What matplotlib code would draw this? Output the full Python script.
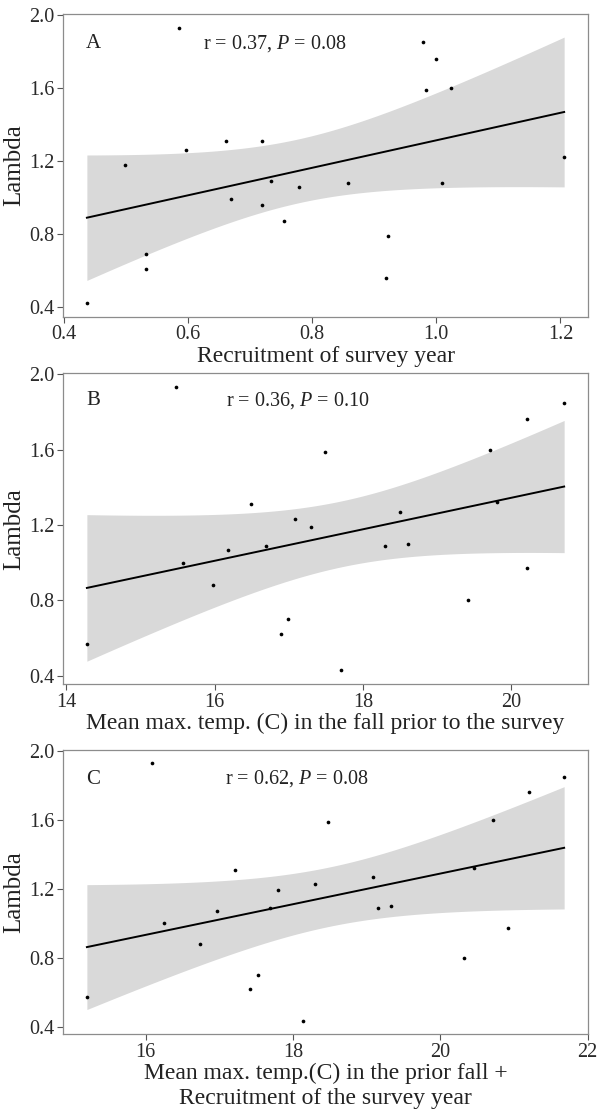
import numpy as np
import matplotlib
matplotlib.use("Agg")
import matplotlib.pyplot as plt

plt.rcParams["font.family"] = ["Liberation Serif", "DejaVu Serif"]
plt.rcParams["mathtext.fontset"] = "custom"
plt.rcParams["mathtext.it"] = "Liberation Serif:italic"
plt.rcParams["mathtext.rm"] = "Liberation Serif"

# Population growth rate (lambda) per survey year
lambda_a = [0.42, 1.18, 0.69, 0.61, 1.93, 1.26, 1.31, 0.99, 1.31, 0.96, 1.09,
            0.87, 1.06, 1.08, 1.85, 1.76, 1.59, 1.60, 1.08, 0.79, 0.56, 1.22]
recruitment = [0.437, 0.498, 0.532, 0.532, 0.585, 0.596, 0.661, 0.670, 0.719, 0.719, 0.734,
               0.755, 0.779, 0.857, 0.979, 1.000, 0.983, 1.024, 1.009, 0.922, 0.919, 1.206]

lambda_b = [0.57, 1.93, 1.00, 0.88, 1.07, 1.31, 1.09, 0.62, 0.70, 1.23, 1.19,
            1.59, 0.43, 1.09, 1.27, 1.10, 0.80, 1.60, 1.32, 1.76, 0.97, 1.85]
fall_temp = [14.28, 15.48, 15.57, 15.98, 16.18, 16.49, 16.69, 16.89, 16.99, 17.09, 17.30,
             17.49, 17.70, 18.30, 18.50, 18.60, 19.41, 19.71, 19.81, 20.21, 20.21, 20.71]

lambda_c = [0.57, 1.93, 1.00, 0.88, 1.07, 1.31, 0.62, 0.70, 1.09, 1.19, 0.43,
            1.23, 1.59, 1.27, 1.09, 1.10, 0.80, 1.32, 1.60, 0.97, 1.76, 1.85]
temp_plus_recr = [15.20, 16.08, 16.25, 16.74, 16.96, 17.21, 17.42, 17.52, 17.69, 17.79, 18.13,
                  18.30, 18.48, 19.09, 19.15, 19.33, 20.32, 20.46, 20.72, 20.92, 21.20, 21.68]

panel_tags = ["A", "B", "C"]
stats = ["r = 0.37, $P$ = 0.08", "r = 0.36, $P$ = 0.10", "r = 0.62, $P$ = 0.08"]
xlabels = ["Recruitment of survey year",
           "Mean max. temp. (C) in the fall prior to the survey",
           "Mean max. temp.(C) in the prior fall +\nRecruitment of the survey year"]
xticks = [[0.4, 0.6, 0.8, 1.0, 1.2], [14, 16, 18, 20], [16, 18, 20, 22]]
yticks = [0.4, 0.8, 1.2, 1.6, 2.0]

T975 = 2.086  # t quantile, df = 20

fig = plt.figure(figsize=(5.98, 11.12), dpi=100)
boxes = [(0.1054, 0.7149, 0.8779, 0.2725),
         (0.1054, 0.3846, 0.8779, 0.2797),
         (0.1054, 0.0699, 0.8779, 0.2556)]
series = [(recruitment, lambda_a), (fall_temp, lambda_b), (temp_plus_recr, lambda_c)]
tag_y = [0.904, 0.911, 0.898]
stat_x = [0.404, 0.447, 0.445]

for i, (xs, ys) in enumerate(series):
    ax = fig.add_axes(boxes[i])
    x = np.array(xs)
    y = np.array(ys)
    n = len(x)
    slope, icpt = np.polyfit(x, y, 1)
    xg = np.linspace(x.min(), x.max(), 100)
    fit = icpt + slope * xg
    resid = y - (icpt + slope * x)
    s = np.sqrt(np.sum(resid ** 2) / (n - 2))
    sxx = np.sum((x - x.mean()) ** 2)
    se = s * np.sqrt(1 / n + (xg - x.mean()) ** 2 / sxx)
    ax.fill_between(xg, fit - T975 * se, fit + T975 * se, color="#d9d9d9", lw=0, zorder=1)
    ax.plot(xg, fit, color="black", lw=1.4, zorder=2)
    ax.scatter(x, y, s=7, color="black", zorder=3, linewidths=0)

    xr = x.max() - x.min()
    yr = y.max() - y.min()
    ax.set_xlim(x.min() - 0.05 * xr, x.max() + 0.05 * xr)
    ax.set_ylim(y.min() - 0.05 * yr, y.max() + 0.05 * yr)
    ax.set_xticks(xticks[i])
    ax.set_yticks(yticks)
    ax.set_xticklabels([f"{t:.1f}" if i == 0 else f"{t}" for t in xticks[i]])
    ax.set_yticklabels([f"{t:.1f}" for t in yticks])
    ax.tick_params(colors="#555555", labelcolor="#2a2a2a", labelsize=14.5, length=4,
                   width=0.8, pad=2)
    for sp in ax.spines.values():
        sp.set_color("#8c8c8c")
        sp.set_linewidth(0.9)
    ax.set_ylabel("Lambda", fontsize=18, color="#222222", labelpad=3)
    ax.set_xlabel(xlabels[i], fontsize=17, color="#222222", labelpad=1, linespacing=1.25)
    ax.text(0.057, tag_y[i], panel_tags[i], transform=ax.transAxes, fontsize=15,
            ha="center", va="center", color="#222222")
    ax.text(stat_x[i], tag_y[i], stats[i], transform=ax.transAxes, fontsize=14.5,
            ha="center", va="center", color="#222222")

fig.savefig("out.png", dpi=100)
